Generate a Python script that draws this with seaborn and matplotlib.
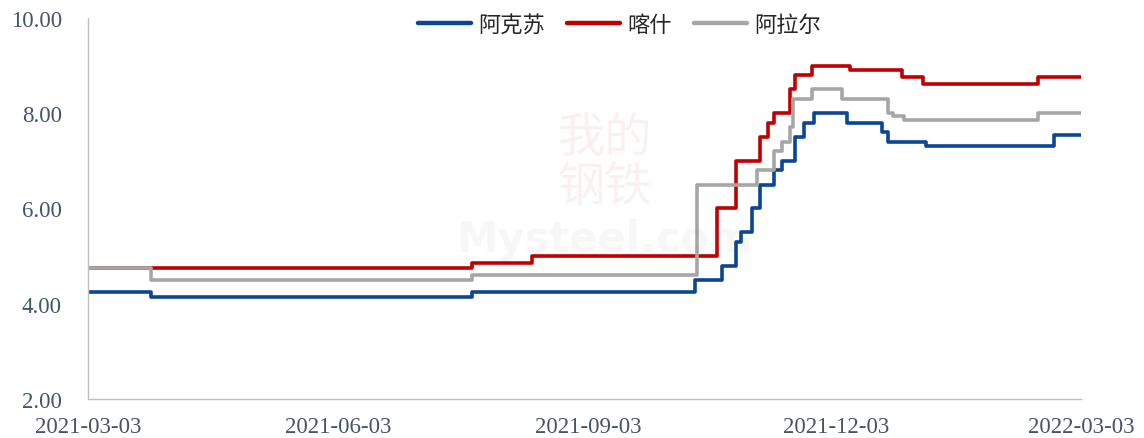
import pandas as pd
import seaborn as sns
import matplotlib.pyplot as plt
import matplotlib.dates as mdates
from matplotlib.ticker import FormatStrFormatter

sns.set_theme(style="white")
plt.rcParams['font.family'] = ['Liberation Serif', 'Noto Sans CJK SC', 'DejaVu Sans']

# 价格变动点 (日期, 数值)
aksu_dates = ['2021-03-03', '2021-03-26', '2021-07-22', '2021-10-12', '2021-10-22', '2021-10-27',
              '2021-10-29', '2021-11-02', '2021-11-05', '2021-11-10', '2021-11-13', '2021-11-18',
              '2021-11-21', '2021-11-25', '2021-12-07', '2021-12-20', '2021-12-22', '2022-01-05',
              '2022-02-21', '2022-03-03']
aksu_vals = [4.25, 4.15, 4.25, 4.5, 4.8, 5.3, 5.5, 6.0, 6.5, 6.8, 7.0, 7.5,
             7.8, 8.0, 7.8, 7.6, 7.4, 7.3, 7.55, 7.55]

kashi_dates = ['2021-03-03', '2021-07-22', '2021-08-13', '2021-10-20', '2021-10-27', '2021-11-05',
               '2021-11-08', '2021-11-10', '2021-11-16', '2021-11-18', '2021-11-24', '2021-12-08',
               '2021-12-27', '2022-01-04', '2022-02-15', '2022-03-03']
kashi_vals = [4.75, 4.85, 5.0, 6.0, 7.0, 7.5, 7.8, 8.0, 8.5, 8.8, 9.0, 8.9,
              8.75, 8.62, 8.75, 8.75]

alaer_dates = ['2021-03-03', '2021-03-26', '2021-07-22', '2021-10-13', '2021-11-04', '2021-11-10',
               '2021-11-13', '2021-11-16', '2021-11-17', '2021-11-24', '2021-12-05', '2021-12-22',
               '2021-12-24', '2021-12-28', '2022-02-15', '2022-03-03']
alaer_vals = [4.75, 4.5, 4.6, 6.5, 6.8, 7.2, 7.4, 7.7, 8.3, 8.5, 8.3, 8.0,
              7.95, 7.85, 8.0, 8.0]

series = [
    ('阿克苏', aksu_dates, aksu_vals, '#0B4596'),
    ('喀什', kashi_dates, kashi_vals, '#C00000'),
    ('阿拉尔', alaer_dates, alaer_vals, '#A6A6A6'),
]

fig = plt.figure(figsize=(11.44, 4.39), dpi=100)
ax = fig.add_axes([0.077, 0.089, 0.868, 0.868])

# 水印
ax.text(0.52, 0.62, '我的\n钢铁', transform=ax.transAxes, ha='center', va='center',
        fontsize=34, color='#C00000', alpha=0.06, family=['Noto Sans CJK SC'], linespacing=1.0)
ax.text(0.52, 0.42, 'Mysteel.com', transform=ax.transAxes, ha='center', va='center',
        fontsize=30, color='#808080', alpha=0.06, family=['DejaVu Sans'], fontweight='bold')

for name, d, v, c in series:
    sns.lineplot(x=pd.to_datetime(d), y=v, ax=ax, color=c, linewidth=2.6,
                 drawstyle='steps-post', label=name)

ax.set_xlim(pd.Timestamp('2021-03-03'), pd.Timestamp('2022-03-03'))
ax.set_ylim(2, 10)
ax.set_yticks([2, 4, 6, 8, 10])
ax.yaxis.set_major_formatter(FormatStrFormatter('%.2f'))
ax.set_xticks(pd.to_datetime(['2021-03-03', '2021-06-03', '2021-09-03', '2021-12-03', '2022-03-03']))
ax.xaxis.set_major_formatter(mdates.DateFormatter('%Y-%m-%d'))

for s in ['top', 'right']:
    ax.spines[s].set_visible(False)
for s in ['left', 'bottom']:
    ax.spines[s].set_color('#BFBFBF')
    ax.spines[s].set_linewidth(1.0)
ax.tick_params(axis='both', direction='out', length=5, width=1, color='#BFBFBF',
               labelsize=16.5, labelcolor='#44546A')
ax.tick_params(axis='x', pad=7)
ax.tick_params(axis='y', pad=14)
ax.set_xlabel('')
ax.set_ylabel('')

leg = ax.legend(loc='upper center', bbox_to_anchor=(0.535, 1.065), ncol=3, frameon=False,
                handlelength=2.4, handletextpad=0.3, columnspacing=1.0,
                prop={'family': ['Noto Sans CJK SC'], 'size': 16})
for line in leg.get_lines():
    line.set_linewidth(3.2)

fig.savefig('out.png', dpi=100)
